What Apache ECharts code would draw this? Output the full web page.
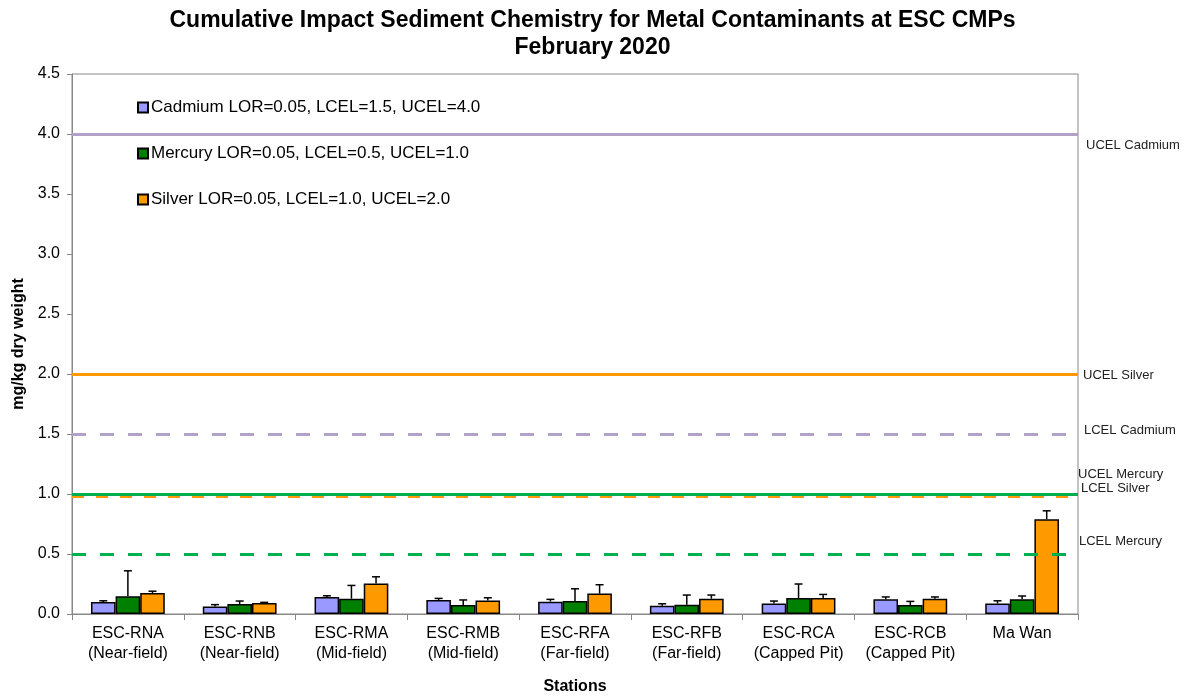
<!DOCTYPE html>
<html>
<head>
<meta charset="utf-8">
<script src="https://cdn.jsdelivr.net/npm/echarts@6/dist/echarts.min.js"></script>
<style>
  html, body { margin: 0; padding: 0; background: #fff; }
  #chart { width: 1185px; height: 697px; }
</style>
</head>
<body>
<div id="chart"></div>
<script>
// stations (x categories)
const stations = [
  'ESC-RNA\n(Near-field)', 'ESC-RNB\n(Near-field)', 'ESC-RMA\n(Mid-field)',
  'ESC-RMB\n(Mid-field)', 'ESC-RFA\n(Far-field)', 'ESC-RFB\n(Far-field)',
  'ESC-RCA\n(Capped Pit)', 'ESC-RCB\n(Capped Pit)', 'Ma Wan'
];
const seriesNames = [
  'Cadmium LOR=0.05, LCEL=1.5, UCEL=4.0',
  'Mercury LOR=0.05, LCEL=0.5, UCEL=1.0',
  'Silver LOR=0.05, LCEL=1.0, UCEL=2.0'
];
// mean values, mg/kg dry weight
const cadmium = [0.10, 0.063, 0.142, 0.117, 0.103, 0.069, 0.088, 0.122, 0.088];
const mercury = [0.147, 0.083, 0.128, 0.075, 0.108, 0.078, 0.133, 0.075, 0.122];
const silver  = [0.175, 0.092, 0.255, 0.113, 0.17, 0.128, 0.133, 0.128, 0.79];
// top of error bars
const cadmiumErr = [0.11, 0.078, 0.152, 0.13, 0.122, 0.085, 0.108, 0.142, 0.11];
const mercuryErr = [0.36, 0.108, 0.238, 0.117, 0.21, 0.158, 0.25, 0.105, 0.15];
const silverErr  = [0.19, 0.097, 0.31, 0.135, 0.244, 0.158, 0.163, 0.142, 0.86];
// criteria lines
const ucelCadmium = 4.0, lcelCadmium = 1.5;
const ucelMercury = 1.0, lcelMercury = 0.5;
const ucelSilver = 2.0, lcelSilver = 0.985;

const colors = ['#9999ff', '#008000', '#ff9900'];
const lavender = '#b3a2c7', green = '#00b050', orange = '#ff9900';

let myChart = echarts.init(document.getElementById('chart'));

function errSeries(errs, means, k) {
  return {
    type: 'custom',
    silent: true,
    z: 3,
    data: errs.map((e, i) => [i, means[i], e]),
    renderItem: (params, api) => {
      const i = api.value(0);
      const bw = api.size([1, 0])[0] * 0.66 / 3;
      const p0 = api.coord([i, api.value(1)]);
      const p1 = api.coord([i, api.value(2)]);
      const x = p0[0] + (k - 1) * bw;
      return {
        type: 'group',
        children: [
          { type: 'line', shape: { x1: x, y1: p0[1], x2: x, y2: p1[1] }, style: { stroke: '#000', lineWidth: 1.5 } },
          { type: 'line', shape: { x1: x - 4, y1: p1[1], x2: x + 4, y2: p1[1] }, style: { stroke: '#000', lineWidth: 1.5 } }
        ]
      };
    }
  };
}

function hline(v, color, type) {
  return { yAxis: v, lineStyle: { color: color, type: type, width: 3 } };
}

const barStyle = c => ({ color: c, borderColor: '#000', borderWidth: 1.5 });

let option = {
  animation: false,
  textStyle: { fontFamily: 'Liberation Sans, Arial, sans-serif' },
  title: {
    text: 'Cumulative Impact Sediment Chemistry for Metal Contaminants at ESC CMPs\nFebruary 2020',
    left: 'center',
    top: 2,
    textStyle: { fontSize: 23, fontWeight: 'bold', color: '#000', lineHeight: 27 }
  },
  legend: {
    orient: 'vertical',
    left: 132,
    top: 94,
    itemGap: 29,
    itemWidth: 10,
    itemHeight: 10,
    icon: 'rect',
    data: seriesNames,
    textStyle: { fontSize: 17, color: '#000', padding: [0, 0, 0, -2] }
  },
  grid: {
    left: 72, right: 107, top: 74, bottom: 83,
    outerBoundsMode: 'none',
    show: true, borderColor: '#888', borderWidth: 1
  },
  xAxis: {
    type: 'category',
    data: stations,
    name: 'Stations',
    nameLocation: 'middle',
    nameGap: 65,
    nameTextStyle: { fontSize: 16, fontWeight: 'bold', color: '#000' },
    axisLine: { lineStyle: { color: '#888' } },
    axisTick: { show: true, length: 6, lineStyle: { color: '#888' } },
    axisLabel: { interval: 0, fontSize: 16, color: '#000', lineHeight: 20, margin: 10 }
  },
  yAxis: {
    type: 'value',
    min: 0, max: 4.5, interval: 0.5,
    name: 'mg/kg dry weight',
    nameLocation: 'middle',
    nameGap: 45,
    nameTextStyle: { fontSize: 16, fontWeight: 'bold', color: '#000' },
    splitLine: { show: false },
    axisLine: { show: true, lineStyle: { color: '#888' } },
    axisTick: { show: true, length: 5, lineStyle: { color: '#888' } },
    axisLabel: { fontSize: 16, color: '#000', formatter: v => v.toFixed(1), margin: 12 }
  },
  series: [
    {
      name: 'criteria', type: 'line', data: [], z: 1,
      markLine: {
        silent: true, symbol: 'none', label: { show: false },
        data: [
          hline(lcelSilver, orange, [12, 12]),
          hline(lcelMercury, green, [14, 14]),
          hline(lcelCadmium, lavender, [14, 14]),
          hline(ucelSilver, orange, 'solid'),
          hline(ucelMercury, green, 'solid'),
          hline(ucelCadmium, lavender, 'solid')
        ]
      }
    },
    { name: seriesNames[0], type: 'bar', data: cadmium, itemStyle: barStyle(colors[0]), barGap: '0%', barCategoryGap: '34%', z: 2 },
    { name: seriesNames[1], type: 'bar', data: mercury, itemStyle: barStyle(colors[1]), barGap: '0%', barCategoryGap: '34%', z: 2 },
    { name: seriesNames[2], type: 'bar', data: silver, itemStyle: barStyle(colors[2]), barGap: '0%', barCategoryGap: '34%', z: 2 },
    errSeries(cadmiumErr, cadmium, 0),
    errSeries(mercuryErr, mercury, 1),
    errSeries(silverErr, silver, 2)
  ],
  graphic: [
    { type: 'text', left: 1086, top: 139, style: { text: 'UCEL Cadmium', fontSize: 13, fill: '#222' } },
    { type: 'text', left: 1083, top: 369, style: { text: 'UCEL Silver', fontSize: 13, fill: '#222' } },
    { type: 'text', left: 1084, top: 424, style: { text: 'LCEL Cadmium', fontSize: 13, fill: '#222' } },
    { type: 'text', left: 1078, top: 468, style: { text: 'UCEL Mercury', fontSize: 13, fill: '#222' } },
    { type: 'text', left: 1081, top: 482, style: { text: 'LCEL Silver', fontSize: 13, fill: '#222' } },
    { type: 'text', left: 1079, top: 535, style: { text: 'LCEL Mercury', fontSize: 13, fill: '#222' } }
  ]
};
myChart.setOption(option);
</script>
</body>
</html>
